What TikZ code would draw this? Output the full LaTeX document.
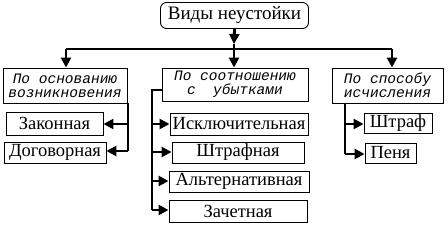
\documentclass[tikz,border=0pt]{standalone}
\usepackage{fontspec}
\setmainfont{Liberation Serif}
\newfontfamily\catfont{Liberation Mono}
\usetikzlibrary{arrows.meta}
\begin{document}
\begin{tikzpicture}[x=1pt,y=-1pt,
  box/.style={draw,line width=0.9pt,inner sep=0pt,font=\fontsize{18.5}{18.5}\selectfont},
  catbox/.style={draw,line width=0.9pt,inner sep=0pt,align=center,font=\catfont\itshape\fontsize{14.5}{14}\selectfont},
  conn/.style={line width=2.8pt},
  arr/.style={conn,-{Triangle[length=10pt,width=10pt]}}]
\useasboundingbox (0,0) rectangle (448,227);
% top
\node[box,rounded corners=6pt,minimum width=148pt,minimum height=26pt,font=\fontsize{19}{19}\selectfont] (top) at (234.5,15.5) {Виды неустойки};
% categories
\node[catbox,minimum width=124pt,minimum height=35pt] (c1) at (65,85.5) {По основанию\\возникновения};
\node[catbox,minimum width=146pt,minimum height=33pt] (c2) at (235,84.5) {По соотношению\\с\ \ убытками};
\node[catbox,minimum width=111pt,minimum height=35pt] (c3) at (387.5,85.5) {По способу\\исчисления};
% leaves
\node[box,minimum width=97pt,minimum height=23pt] (z) at (54.5,123.5) {Законная};
\node[box,minimum width=102pt,minimum height=21pt] (d) at (55,152.5) {Договорная};
\node[box,minimum width=138pt,minimum height=22pt] (i) at (239,124) {Исключительная};
\node[box,minimum width=132pt,minimum height=21pt] (sh) at (238,152.5) {Штрафная};
\node[box,minimum width=140pt,minimum height=21pt] (a) at (239,181.5) {Альтернативная};
\node[box,minimum width=138pt,minimum height=22pt] (zc) at (238,211) {Зачетная};
\node[box,minimum width=68pt,minimum height=20pt] (st) at (398,123) {Штраф};
\node[box,minimum width=51pt,minimum height=20pt] (p) at (390.5,153) {Пеня};
% bus
\coordinate (b1) at (66,49);
\coordinate (b2) at (234,49);
\coordinate (b3) at (392,49);
\coordinate (mid) at (234,44);
\draw[arr] (top.south) -- (mid);
\draw[conn] (mid) -- (b2);
\draw[conn] (b1) -- (b3);
\draw[arr] (b1) -- (b1 |- c1.north);
\draw[arr] (b2) -- (b2 |- c2.north);
\draw[arr] (b3) -- (b3 |- c3.north);
% left branch
\coordinate (l0) at (128,103);
\coordinate (l1) at (128,124);
\coordinate (l2) at (128,151);
\draw[conn] (l0) -- (l2);
\draw[arr] (l1) -- (l1 -| z.east);
\draw[arr] (l2) -- (l2 -| d.east);
% middle branch
\coordinate (m0) at (152,90);
\coordinate (m1) at (152,124);
\coordinate (m2) at (152,152);
\coordinate (m3) at (152,181);
\coordinate (m4) at (152,210);
\draw[conn] (m0 -| c2.west) -- (m0) -- (m4);
\draw[arr] (m1) -- (m1 -| i.west);
\draw[arr] (m2) -- (m2 -| sh.west);
\draw[arr] (m3) -- (m3 -| a.west);
\draw[arr] (m4) -- (m4 -| zc.west);
% right branch
\coordinate (r0) at (345,103);
\coordinate (r1) at (345,124);
\coordinate (r2) at (345,154);
\draw[conn] (r0) -- (r2);
\draw[arr] (r1) -- (r1 -| st.west);
\draw[arr] (r2) -- (r2 -| p.west);
\end{tikzpicture}
\end{document}
